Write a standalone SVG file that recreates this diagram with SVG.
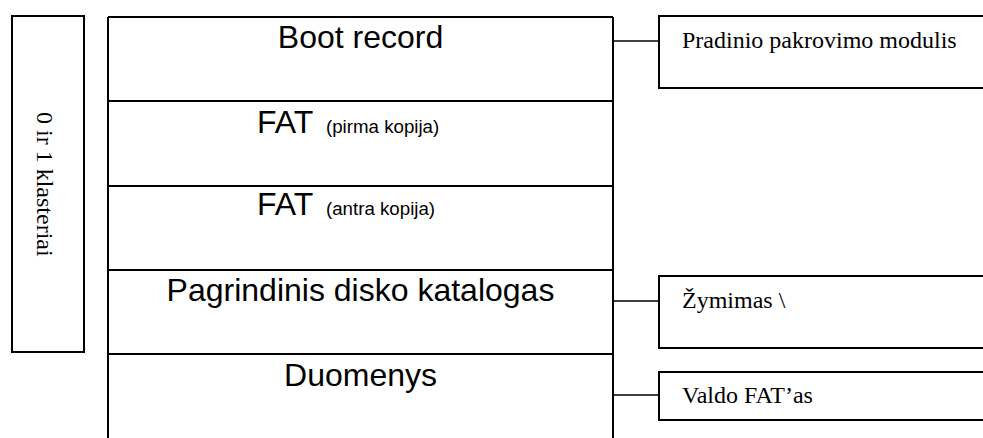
<svg xmlns="http://www.w3.org/2000/svg" width="983" height="438" viewBox="0 0 983 438">
<style>
.box{fill:#fff;stroke:#000;stroke-width:2}
.ln{stroke:#000;stroke-width:2;fill:none}
.cn{stroke:#000;stroke-width:1.5;fill:none}
.big{font-family:"Liberation Sans",Arial,sans-serif;font-size:32px;fill:#000}
.sm{font-size:18.7px}
.tm{font-family:"Liberation Serif","Times New Roman",serif;font-size:24px;fill:#000}
.tl{font-family:"Liberation Serif","Times New Roman",serif;font-size:24px;fill:#000}
</style>
<rect width="983" height="438" fill="#fff"/>
<g id="clusters">
<rect class="box" x="12" y="16" width="72" height="336"/>
<text class="tl" transform="translate(37,112) rotate(90)">0 ir 1 klasteriai</text>
</g>
<g id="boot-record">
<path class="ln" d="M108,17 H613 M108,17 V101 M613,17 V101"/>
<text class="big" x="360.5" y="48" text-anchor="middle">Boot record</text>
</g>
<g id="fat1">
<path class="ln" d="M108,101 H613 M108,101 V186 M613,101 V186"/>
<text class="big" x="257" y="133">FAT<tspan class="sm" x="326">(pirma kopija)</tspan></text>
</g>
<g id="fat2">
<path class="ln" d="M108,186 H613 M108,186 V270 M613,186 V270"/>
<text class="big" x="257" y="215">FAT<tspan class="sm" x="326">(antra kopija)</tspan></text>
</g>
<g id="root-dir">
<path class="ln" d="M108,270 H613 M108,270 V354 M613,270 V354"/>
<text class="big" x="360.5" y="301" text-anchor="middle">Pagrindinis disko katalogas</text>
</g>
<g id="data">
<path class="ln" d="M108,354 H613 M108,354 V438 M613,354 V438"/>
<text class="big" x="360.5" y="386" text-anchor="middle">Duomenys</text>
</g>
<g id="note-boot">
<rect class="box" x="659" y="16" width="340" height="72"/>
<text class="tm" x="682" y="48">Pradinio pakrovimo modulis</text>
</g>
<g id="note-root">
<rect class="box" x="659" y="276" width="340" height="72"/>
<text class="tm" x="682" y="308">Žymimas \</text>
</g>
<g id="note-data">
<rect class="box" x="659" y="372" width="340" height="48"/>
<text class="tm" x="682" y="403">Valdo FAT’as</text>
</g>
<g id="connectors">
<path class="cn" d="M613,41 H659"/>
<path class="cn" d="M613,301 H659"/>
<path class="cn" d="M613,395 H659"/>
</g>
</svg>
